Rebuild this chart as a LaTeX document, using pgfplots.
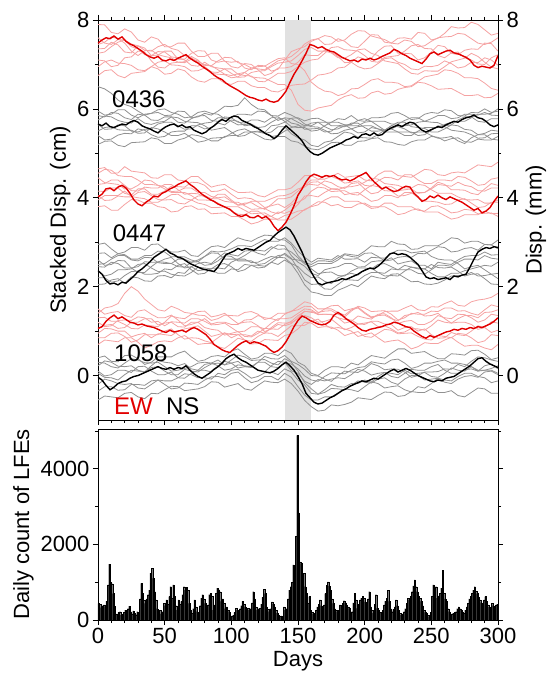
\documentclass[border=0pt]{standalone}
\usepackage{fontspec}
\setmainfont{Liberation Sans}
\usepackage{pgfplots}
\usepackage{pgfplotstable}
\pgfplotsset{compat=1.18}

\definecolor{ewred}{RGB}{226,0,0}
\definecolor{ewpink}{RGB}{245,162,162}
\definecolor{nsgray}{RGB}{145,145,145}
\definecolor{slipgray}{RGB}{225,225,225}

\newcommand{\bigfont}{\fontsize{22}{26}\selectfont}
\newcommand{\labfont}{\fontsize{24}{28}\selectfont}

\pgfplotsset{
  every axis/.append style={
    scale only axis,
    tick align=outside,
    major tick length=5pt,
    minor tick length=3pt,
    axis line style={line width=0.9pt},
    tick style={black, line width=0.7pt},
    tick label style={font=\bigfont},
    label style={font=\bigfont},
    /pgf/number format/assume math mode=true,
    /pgf/number format/1000 sep={},
  },
  thin ew/.style={ewpink, line width=0.8pt},
  thin ns/.style={nsgray, line width=0.8pt},
  bold ew/.style={ewred, line width=1.4pt},
  bold ns/.style={black, line width=1.4pt},
}

% stacked displacement, every 3 days
\pgfplotstableread{
day A1 A2 B1 B2 C1 C2
0 7.48 5.66 4.02 2.36 1.06 -0.04
3 7.55 5.62 4.08 2.28 1.10 -0.10
6 7.60 5.68 4.20 2.14 1.22 -0.22
9 7.58 5.60 4.22 2.06 1.30 -0.32
12 7.64 5.58 4.16 2.08 1.36 -0.26
15 7.57 5.62 4.24 2.04 1.28 -0.18
18 7.62 5.66 4.28 2.10 1.32 -0.14
21 7.52 5.64 4.22 2.08 1.26 -0.12
24 7.46 5.70 4.10 2.16 1.20 -0.06
27 7.42 5.74 3.95 2.24 1.18 -0.02
30 7.36 5.70 3.86 2.34 1.14 0.00
33 7.30 5.62 3.82 2.40 1.16 0.04
36 7.22 5.58 3.90 2.48 1.12 0.08
39 7.17 5.55 3.96 2.56 1.10 0.12
42 7.14 5.50 4.04 2.66 1.08 0.16
45 7.18 5.46 4.02 2.72 1.04 0.20
48 7.10 5.54 4.10 2.78 1.00 0.16
51 7.08 5.60 4.14 2.84 0.97 0.14
54 7.12 5.64 4.20 2.76 1.02 0.18
57 7.09 5.66 4.24 2.72 0.98 0.14
60 7.14 5.60 4.30 2.66 1.00 0.18
63 7.18 5.64 4.34 2.64 1.02 0.16
66 7.22 5.58 4.38 2.58 0.98 0.22
69 7.14 5.60 4.30 2.52 1.04 0.12
72 7.08 5.52 4.24 2.48 1.08 0.04
75 7.03 5.48 4.16 2.44 1.04 -0.02
78 6.96 5.44 4.08 2.40 0.98 -0.06
81 6.90 5.48 4.02 2.38 0.92 0.00
84 6.84 5.56 3.96 2.36 0.82 0.06
87 6.76 5.62 3.92 2.34 0.70 0.14
90 6.70 5.70 3.86 2.44 0.64 0.20
93 6.66 5.76 3.82 2.58 0.58 0.28
96 6.58 5.72 3.78 2.72 0.54 0.38
99 6.52 5.80 3.74 2.76 0.52 0.44
102 6.47 5.84 3.66 2.80 0.60 0.48
105 6.42 5.82 3.60 2.86 0.68 0.40
108 6.36 5.74 3.58 2.82 0.74 0.34
111 6.30 5.70 3.62 2.86 0.78 0.30
114 6.26 5.66 3.56 2.84 0.72 0.24
117 6.24 5.60 3.55 2.82 0.76 0.18
120 6.20 5.56 3.60 2.88 0.74 0.12
123 6.18 5.50 3.54 2.94 0.70 0.10
126 6.22 5.44 3.58 3.00 0.66 0.08
129 6.17 5.40 3.50 3.04 0.58 0.06
132 6.15 5.33 3.36 3.14 0.52 0.10
135 6.18 5.40 3.26 3.22 0.56 0.16
138 6.28 5.52 3.34 3.28 0.64 0.24
141 6.40 5.62 3.45 3.34 0.76 0.30
144 6.60 5.54 3.62 3.28 0.92 0.22
147 6.78 5.46 3.82 3.14 1.10 0.12
150 6.92 5.38 4.06 2.96 1.24 -0.02
153 7.08 5.28 4.20 2.78 1.34 -0.18
156 7.25 5.14 4.36 2.56 1.30 -0.40
159 7.45 5.04 4.48 2.38 1.24 -0.50
162 7.42 4.98 4.53 2.22 1.20 -0.60
165 7.37 4.96 4.50 2.08 1.16 -0.64
168 7.40 5.00 4.46 2.04 1.14 -0.62
171 7.34 5.06 4.50 2.08 1.16 -0.56
174 7.30 5.12 4.48 2.10 1.22 -0.50
177 7.28 5.16 4.50 2.12 1.36 -0.46
180 7.22 5.20 4.44 2.14 1.42 -0.40
183 7.16 5.24 4.40 2.18 1.36 -0.34
186 7.12 5.30 4.42 2.16 1.28 -0.30
189 7.08 5.33 4.38 2.20 1.22 -0.24
192 7.10 5.38 4.42 2.24 1.16 -0.20
195 7.06 5.34 4.48 2.28 1.08 -0.16
198 7.12 5.42 4.52 2.34 1.02 -0.12
201 7.10 5.44 4.57 2.38 1.00 -0.14
204 7.14 5.40 4.46 2.42 1.04 -0.10
207 7.10 5.46 4.36 2.40 1.06 -0.06
210 7.13 5.40 4.28 2.46 1.08 -0.08
213 7.18 5.42 4.20 2.54 1.10 -0.02
216 7.22 5.50 4.24 2.64 1.14 0.04
219 7.26 5.56 4.18 2.74 1.16 0.10
222 7.34 5.60 4.14 2.76 1.20 0.14
225 7.30 5.64 4.16 2.72 1.18 0.08
228 7.24 5.60 4.22 2.74 1.14 0.12
231 7.20 5.66 4.26 2.72 1.10 0.16
234 7.14 5.70 4.24 2.66 1.08 0.12
237 7.10 5.68 4.10 2.58 1.00 0.06
240 7.06 5.60 4.02 2.50 0.94 0.00
243 7.02 5.52 3.92 2.36 0.88 -0.04
246 7.12 5.48 3.96 2.22 0.84 -0.08
249 7.24 5.52 4.04 2.18 0.90 -0.12
252 7.28 5.56 4.00 2.20 0.86 -0.14
255 7.22 5.60 4.06 2.16 0.90 -0.10
258 7.26 5.58 4.00 2.18 0.94 -0.12
261 7.30 5.64 3.96 2.20 0.98 -0.06
264 7.32 5.68 4.02 2.16 1.00 -0.04
267 7.26 5.72 3.98 2.24 1.04 -0.02
270 7.24 5.70 3.94 2.22 1.02 0.04
273 7.20 5.76 3.90 2.26 1.06 0.10
276 7.16 5.80 3.84 2.28 1.04 0.16
279 7.10 5.82 3.78 2.44 1.08 0.22
282 6.98 5.86 3.72 2.62 1.06 0.30
285 6.93 5.80 3.76 2.78 1.10 0.38
288 6.96 5.78 3.66 2.84 1.08 0.40
291 6.94 5.72 3.70 2.88 1.12 0.32
294 6.92 5.64 3.78 2.86 1.16 0.26
297 6.98 5.60 3.92 2.90 1.22 0.22
300 7.20 5.64 4.04 2.88 1.30 0.18
}\stack

% single stations, one row per station, every 5 days
\pgfplotstableread{
line 0 5 10 15 20 25 30 35 40 45 50 55 60 65 70 75 80 85 90 95 100 105 110 115 120 125 130 135 140 145 150 155 160 165 170 175 180 185 190 195 200 205 210 215 220 225 230 235 240 245 250 255 260 265 270 275 280 285 290 295 300
a 7.90 7.89 7.72 7.69 7.80 7.73 7.55 7.50 7.62 7.57 7.40 7.40 7.48 7.48 7.30 7.18 7.18 7.25 7.25 7.07 7.05 7.07 6.92 6.88 6.98 6.97 6.85 6.89 7.10 7.29 7.35 7.40 7.52 7.58 7.45 7.46 7.58 7.52 7.40 7.38 7.52 7.67 7.66 7.50 7.48 7.59 7.60 7.57 7.72 7.70 7.55 7.59 7.70 7.85 7.82 7.83 7.95 7.90 7.78 7.66 7.70
b 7.35 7.36 7.50 7.44 7.28 7.26 7.42 7.37 7.20 7.21 7.30 7.30 7.12 7.12 7.25 7.31 7.30 7.10 7.05 7.08 6.95 6.92 7.02 7.00 6.88 6.75 6.80 6.92 6.92 6.95 7.05 7.22 7.20 7.20 7.32 7.28 7.18 7.04 7.05 7.17 7.12 7.14 7.30 7.41 7.42 7.25 7.25 7.24 7.10 7.15 7.28 7.43 7.40 7.25 7.22 7.32 7.35 7.34 7.48 7.47 7.30
c 7.10 7.08 6.95 6.98 7.15 7.17 7.30 7.28 7.08 6.94 6.92 7.03 7.05 7.06 7.18 7.10 6.95 6.83 6.82 6.90 6.90 6.78 6.75 6.74 6.62 6.61 6.70 6.80 6.80 6.84 6.95 7.05 7.10 7.12 7.25 7.38 7.40 7.33 7.32 7.30 7.20 7.07 7.05 7.16 7.18 7.20 7.30 7.42 7.45 7.36 7.35 7.20 7.15 7.26 7.28 7.15 7.10 7.01 7.00 7.15 7.22
d 6.75 6.86 6.88 6.75 6.70 6.80 6.82 6.84 6.95 6.90 6.78 6.80 6.90 6.86 6.72 6.63 6.60 6.68 6.68 6.58 6.55 6.62 6.62 6.52 6.48 6.48 6.40 6.38 6.45 6.53 6.55 6.56 6.65 6.76 6.78 6.82 6.92 6.94 7.05 6.95 6.90 6.92 7.02 7.13 7.15 7.05 7.00 6.90 6.88 6.96 6.95 6.98 7.08 7.02 6.92 6.95 7.05 7.04 7.15 7.10 6.98
e 7.60 7.48 7.45 7.56 7.55 7.40 7.35 7.22 7.20 7.29 7.28 7.17 7.15 7.10 6.98 6.96 7.05 6.95 6.92 6.90 6.80 6.71 6.72 6.82 6.85 6.86 6.95 7.03 7.05 7.08 7.20 7.34 7.38 7.30 7.30 7.26 7.15 7.14 7.22 7.33 7.35 7.25 7.20 7.08 7.05 7.02 6.90 6.80 6.78 6.86 6.85 6.85 6.95 7.06 7.10 7.14 7.25 7.18 7.05 6.94 6.90
f 6.95 7.06 7.10 7.03 7.02 6.98 6.88 6.86 6.95 7.05 7.08 6.99 6.98 6.95 6.85 6.86 6.92 6.80 6.78 6.77 6.70 6.72 6.82 6.92 6.95 6.96 7.05 7.13 7.15 7.02 7.00 6.86 6.60 6.48 6.40 6.38 6.30 6.34 6.45 6.46 6.55 6.65 6.68 6.60 6.60 6.58 6.50 6.52 6.62 6.72 6.75 6.78 6.88 6.86 6.80 6.70 6.70 6.68 6.58 6.46 6.42
g 7.25 7.28 7.40 7.50 7.55 7.46 7.42 7.32 7.30 7.40 7.45 7.36 7.32 7.20 7.15 7.05 7.00 6.97 6.88 6.78 6.75 6.79 6.82 6.72 6.70 6.69 6.62 6.55 6.55 6.42 6.10 5.97 5.95 6.02 6.05 6.08 6.20 6.28 6.32 6.24 6.25 6.36 6.40 6.33 6.35 6.44 6.48 6.50 6.60 6.58 6.52 6.44 6.45 6.46 6.38 6.30 6.30 6.32 6.25 6.26 6.35
h 7.45 7.50 7.62 7.58 7.48 7.30 7.20 7.31 7.32 7.22 7.18 7.15 7.05 7.04 7.12 7.08 6.98 6.97 7.08 7.16 7.15 7.04 7.00 6.92 6.90 6.88 6.98 7.08 7.12 7.18 7.30 7.46 7.55 7.58 7.65 7.62 7.52 7.55 7.68 7.76 7.75 7.64 7.60 7.56 7.48 7.46 7.55 7.52 7.40 7.42 7.52 7.60 7.62 7.63 7.70 7.68 7.58 7.48 7.45 7.50 7.60
}\AEWrows
\pgfplotstableread{
line 0 5 10 15 20 25 30 35 40 45 50 55 60 65 70 75 80 85 90 95 100 105 110 115 120 125 130 135 140 145 150 155 160 165 170 175 180 185 190 195 200 205 210 215 220 225 230 235 240 245 250 255 260 265 270 275 280 285 290 295 300
a 6.50 6.45 6.35 6.20 6.10 6.05 5.95 5.86 5.90 5.92 5.85 5.86 5.95 5.94 5.80 5.82 5.90 5.86 5.95 6.06 6.05 6.08 6.25 6.10 6.00 5.98 5.85 5.74 5.80 5.78 5.70 5.62 5.62 5.70 5.70 5.70 5.78 5.76 5.85 5.74 5.72 5.80 5.80 5.82 5.90 5.92 5.85 5.76 5.78 5.88 5.92 5.90 5.98 5.96 5.85 5.84 5.92 5.91 6.00 5.92 5.95
b 5.85 5.82 5.92 5.90 5.80 5.76 5.88 5.86 5.75 5.74 5.82 5.82 5.70 5.68 5.78 5.84 5.85 5.74 5.72 5.82 5.80 5.70 5.68 5.75 5.75 5.70 5.80 5.82 5.72 5.60 5.58 5.58 5.50 5.52 5.62 5.70 5.70 5.64 5.65 5.74 5.78 5.72 5.72 5.72 5.66 5.66 5.74 5.80 5.80 5.72 5.70 5.69 5.62 5.64 5.75 5.82 5.82 5.72 5.70 5.78 5.78
c 5.40 5.30 5.32 5.41 5.45 5.44 5.55 5.52 5.42 5.36 5.38 5.48 5.50 5.50 5.62 5.62 5.55 5.58 5.68 5.64 5.75 5.72 5.62 5.64 5.55 5.45 5.48 5.60 5.60 5.44 5.35 5.30 5.18 5.15 5.25 5.28 5.38 5.48 5.45 5.36 5.35 5.34 5.42 5.52 5.55 5.48 5.48 5.48 5.40 5.42 5.52 5.62 5.60 5.52 5.50 5.48 5.42 5.34 5.35 5.44 5.45
d 5.65 5.54 5.55 5.64 5.62 5.50 5.48 5.54 5.55 5.66 5.70 5.70 5.62 5.54 5.55 5.64 5.68 5.70 5.80 5.80 5.72 5.64 5.65 5.66 5.58 5.60 5.70 5.78 5.78 5.68 5.65 5.54 5.55 5.56 5.48 5.50 5.60 5.60 5.68 5.68 5.58 5.50 5.50 5.52 5.62 5.70 5.70 5.60 5.58 5.56 5.48 5.48 5.55 5.64 5.62 5.54 5.52 5.42 5.45 5.52 5.50
e 5.20 5.27 5.28 5.18 5.15 5.24 5.25 5.26 5.35 5.32 5.22 5.22 5.30 5.34 5.42 5.40 5.35 5.28 5.28 5.38 5.40 5.40 5.48 5.48 5.40 5.32 5.30 5.38 5.38 5.28 5.25 5.16 5.10 5.08 5.15 5.24 5.25 5.18 5.18 5.27 5.28 5.33 5.35 5.26 5.25 5.20 5.18 5.26 5.30 5.30 5.38 5.36 5.28 5.33 5.35 5.26 5.25 5.32 5.30 5.30 5.38
f 5.75 5.84 5.82 5.74 5.70 5.68 5.78 5.68 5.65 5.70 5.72 5.82 5.80 5.72 5.70 5.69 5.62 5.52 5.55 5.58 5.48 5.38 5.40 5.48 5.50 5.47 5.62 5.64 5.70 5.79 5.80 5.73 5.78 5.79 5.72 5.62 5.62 5.64 5.55 5.46 5.48 5.58 5.55 5.52 5.62 5.60 5.55 5.46 5.48 5.48 5.40 5.34 5.35 5.38 5.28 5.22 5.35 5.42 5.42 5.32 5.30
g 5.50 5.58 5.60 5.53 5.52 5.52 5.45 5.46 5.58 5.55 5.48 5.40 5.40 5.45 5.35 5.25 5.28 5.34 5.35 5.36 5.45 5.52 5.55 5.48 5.48 5.45 5.38 5.40 5.50 5.58 5.62 5.61 5.68 5.70 5.60 5.53 5.55 5.62 5.62 5.62 5.70 5.72 5.62 5.52 5.55 5.62 5.62 5.64 5.70 5.72 5.78 5.85 5.85 5.78 5.80 5.88 5.88 5.86 5.92 5.86 5.85
h 5.95 5.86 5.88 5.98 5.98 5.86 5.80 5.88 5.90 5.98 6.00 5.92 5.88 5.80 5.82 5.92 5.95 5.90 5.88 5.78 5.80 5.88 5.88 5.86 5.95 5.94 5.85 5.84 5.92 5.86 5.78 5.66 5.60 5.59 5.52 5.44 5.45 5.52 5.55 5.60 5.62 5.62 5.55 5.48 5.48 5.48 5.40 5.40 5.50 5.58 5.58 5.58 5.65 5.70 5.72 5.72 5.80 5.88 5.88 5.90 6.00
}\ANSrows
\pgfplotstableread{
line 0 5 10 15 20 25 30 35 40 45 50 55 60 65 70 75 80 85 90 95 100 105 110 115 120 125 130 135 140 145 150 155 160 165 170 175 180 185 190 195 200 205 210 215 220 225 230 235 240 245 250 255 260 265 270 275 280 285 290 295 300
a 4.65 4.68 4.55 4.56 4.70 4.60 4.58 4.56 4.45 4.44 4.52 4.52 4.40 4.38 4.48 4.48 4.35 4.24 4.28 4.30 4.20 4.12 4.12 4.13 4.05 4.02 4.10 4.18 4.18 4.22 4.35 4.50 4.50 4.42 4.42 4.48 4.55 4.46 4.48 4.50 4.40 4.38 4.52 4.60 4.60 4.50 4.48 4.46 4.55 4.64 4.62 4.52 4.50 4.56 4.58 4.56 4.65 4.74 4.72 4.70 4.80
b 4.30 4.32 4.40 4.40 4.28 4.16 4.15 4.24 4.22 4.22 4.30 4.30 4.18 4.08 4.10 4.09 4.02 3.97 4.08 4.08 3.95 3.84 3.88 3.89 3.80 3.74 3.85 3.98 3.98 4.02 4.15 4.30 4.30 4.28 4.38 4.34 4.25 4.21 4.32 4.34 4.20 4.09 4.12 4.24 4.25 4.16 4.18 4.20 4.10 4.12 4.22 4.35 4.30 4.18 4.18 4.17 4.10 4.07 4.20 4.32 4.28
c 3.95 4.05 4.05 4.05 4.15 4.03 4.00 3.98 3.90 3.90 3.98 4.07 4.08 3.98 3.95 3.88 3.85 3.78 3.78 3.80 3.70 3.63 3.62 3.70 3.70 3.60 3.58 3.68 3.65 3.71 3.85 4.04 4.05 4.02 4.12 4.20 4.20 4.07 4.10 4.12 4.02 3.92 3.95 4.05 4.05 4.00 4.12 4.12 4.00 3.92 3.92 3.90 3.85 3.86 3.95 3.98 3.88 3.78 3.80 3.90 3.90
d 4.45 4.34 4.32 4.30 4.20 4.20 4.28 4.40 4.38 4.28 4.25 4.14 4.15 4.22 4.22 4.12 4.12 4.03 4.00 4.02 3.92 3.83 3.85 3.92 3.92 3.92 3.98 4.04 4.05 4.10 4.20 4.24 4.35 4.36 4.28 4.20 4.18 4.24 4.25 4.28 4.35 4.44 4.42 4.32 4.30 4.28 4.22 4.22 4.30 4.28 4.18 4.10 4.10 4.10 4.02 3.96 3.95 3.96 3.88 3.88 3.95
e 3.80 3.82 3.72 3.72 3.85 3.96 3.95 3.88 3.88 3.80 3.78 3.68 3.70 3.80 3.82 3.74 3.75 3.64 3.65 3.66 3.58 3.58 3.50 3.41 3.45 3.52 3.52 3.52 3.60 3.64 3.70 3.72 3.82 3.91 3.90 3.82 3.85 3.78 3.78 3.86 3.88 3.80 3.80 3.80 3.72 3.62 3.65 3.72 3.75 3.68 3.68 3.68 3.60 3.52 3.55 3.62 3.62 3.62 3.70 3.64 3.65
f 4.15 4.14 4.22 4.22 4.10 4.06 4.20 4.20 4.08 4.08 4.15 4.26 4.25 4.24 4.35 4.34 4.28 4.14 4.15 4.20 4.08 3.98 4.00 3.98 3.90 3.78 3.82 3.86 3.78 3.88 4.05 4.28 4.40 4.40 4.50 4.48 4.42 4.33 4.35 4.38 4.28 4.26 4.38 4.46 4.45 4.40 4.52 4.52 4.40 4.32 4.32 4.40 4.40 4.38 4.48 4.46 4.38 4.28 4.30 4.42 4.45
g 4.55 4.64 4.62 4.50 4.48 4.48 4.40 4.30 4.30 4.28 4.20 4.12 4.12 4.12 4.05 3.95 3.95 3.94 3.88 3.80 3.80 3.80 3.72 3.64 3.65 3.66 3.58 3.50 3.50 3.52 3.62 3.74 3.80 3.84 3.95 4.02 4.02 3.92 3.92 3.92 3.85 3.76 3.78 3.88 3.88 3.80 3.80 3.80 3.72 3.70 3.80 3.82 3.75 3.66 3.68 3.74 3.72 3.64 3.65 3.66 3.58
h 4.05 3.94 3.95 4.04 4.02 4.02 4.12 4.14 4.05 3.96 3.95 3.96 3.88 3.86 3.95 4.04 4.05 3.98 3.98 3.92 3.90 3.90 3.82 3.74 3.75 3.76 3.68 3.64 3.72 3.84 3.90 3.98 4.15 4.24 4.22 4.14 4.15 4.16 4.08 4.06 4.18 4.28 4.25 4.16 4.15 4.04 4.05 4.10 4.12 4.12 4.20 4.30 4.28 4.26 4.35 4.28 4.25 4.16 4.15 4.22 4.22
}\BEWrows
\pgfplotstableread{
line 0 5 10 15 20 25 30 35 40 45 50 55 60 65 70 75 80 85 90 95 100 105 110 115 120 125 130 135 140 145 150 155 160 165 170 175 180 185 190 195 200 205 210 215 220 225 230 235 240 245 250 255 260 265 270 275 280 285 290 295 300
a 2.95 2.98 2.85 2.74 2.78 2.88 2.88 2.82 2.95 2.96 2.85 2.78 2.78 2.82 2.70 2.68 2.80 2.90 2.92 2.88 3.00 3.10 3.05 3.02 3.10 3.16 3.15 3.06 3.05 2.94 2.70 2.54 2.50 2.58 2.58 2.56 2.65 2.74 2.72 2.70 2.80 2.92 2.90 2.90 3.02 2.96 2.95 2.84 2.85 2.92 2.92 2.92 3.00 3.10 3.08 2.98 3.02 3.02 2.95 2.94 3.05
b 2.60 2.48 2.50 2.59 2.58 2.42 2.45 2.56 2.55 2.55 2.62 2.66 2.52 2.42 2.45 2.52 2.55 2.52 2.65 2.76 2.72 2.69 2.80 2.82 2.75 2.71 2.85 2.94 2.92 2.70 2.55 2.46 2.30 2.25 2.38 2.42 2.45 2.52 2.52 2.44 2.45 2.56 2.58 2.58 2.65 2.51 2.55 2.58 2.48 2.48 2.40 2.55 2.52 2.50 2.60 2.68 2.70 2.70 2.78 2.71 2.72
c 2.20 2.20 2.10 2.13 2.25 2.34 2.35 2.28 2.28 2.30 2.40 2.38 2.48 2.52 2.38 2.28 2.30 2.41 2.42 2.40 2.55 2.62 2.62 2.54 2.55 2.62 2.68 2.65 2.75 2.64 2.40 2.15 2.05 2.06 1.95 1.94 2.05 2.16 2.15 2.14 2.25 2.32 2.32 2.30 2.40 2.38 2.48 2.44 2.40 2.40 2.30 2.22 2.22 2.30 2.30 2.36 2.40 2.44 2.48 2.46 2.55
d 2.45 2.44 2.55 2.52 2.42 2.42 2.32 2.32 2.45 2.56 2.55 2.52 2.62 2.62 2.55 2.56 2.48 2.50 2.58 2.70 2.68 2.58 2.58 2.58 2.50 2.52 2.62 2.70 2.72 2.62 2.60 2.56 2.40 2.29 2.32 2.33 2.25 2.24 2.35 2.42 2.42 2.40 2.50 2.52 2.45 2.38 2.38 2.38 2.30 2.28 2.38 2.48 2.48 2.46 2.55 2.62 2.62 2.60 2.70 2.64 2.62
e 2.05 2.06 2.15 2.18 2.08 2.22 2.20 2.13 2.12 2.24 2.25 2.20 2.32 2.30 2.45 2.36 2.38 2.37 2.30 2.30 2.40 2.38 2.50 2.48 2.42 2.44 2.55 2.50 2.60 2.51 2.30 2.04 1.88 1.85 1.80 1.80 1.92 1.98 2.05 2.00 2.12 2.24 2.20 2.18 2.28 2.29 2.20 2.11 2.12 2.06 2.05 2.08 2.15 2.24 2.25 2.26 2.32 2.24 2.25 2.28 2.18
f 2.75 2.76 2.65 2.74 2.72 2.62 2.62 2.70 2.70 2.80 2.78 2.67 2.68 2.67 2.60 2.56 2.68 2.80 2.78 2.80 2.85 2.92 2.92 2.90 2.98 3.06 3.02 3.02 3.10 2.98 2.80 2.66 2.55 2.64 2.62 2.60 2.70 2.62 2.62 2.63 2.55 2.66 2.65 2.64 2.75 2.82 2.82 2.76 2.78 2.80 2.68 2.62 2.60 2.60 2.52 2.40 2.45 2.48 2.38 2.28 2.30
g 2.35 2.24 2.28 2.38 2.38 2.40 2.50 2.52 2.42 2.34 2.35 2.28 2.25 2.24 2.32 2.44 2.42 2.40 2.50 2.52 2.45 2.34 2.38 2.48 2.48 2.46 2.55 2.66 2.65 2.52 2.45 2.30 2.20 2.22 2.12 2.07 2.20 2.26 2.30 2.26 2.38 2.42 2.32 2.24 2.25 2.24 2.35 2.44 2.42 2.40 2.50 2.43 2.42 2.44 2.35 2.24 2.28 2.29 2.18 2.06 2.05
h 2.50 2.52 2.62 2.70 2.70 2.60 2.58 2.66 2.65 2.54 2.52 2.52 2.45 2.44 2.55 2.60 2.68 2.76 2.75 2.62 2.62 2.62 2.70 2.80 2.82 2.80 2.90 2.84 2.85 2.78 2.65 2.51 2.45 2.52 2.52 2.52 2.60 2.72 2.68 2.66 2.75 2.76 2.68 2.58 2.60 2.66 2.68 2.66 2.75 2.74 2.82 2.90 2.88 2.78 2.80 2.86 2.88 2.82 2.95 2.94 2.85
}\BNSrows
\pgfplotstableread{
line 0 5 10 15 20 25 30 35 40 45 50 55 60 65 70 75 80 85 90 95 100 105 110 115 120 125 130 135 140 145 150 155 160 165 170 175 180 185 190 195 200 205 210 215 220 225 230 235 240 245 250 255 260 265 270 275 280 285 290 295 300
a 1.40 1.52 1.55 1.62 1.85 2.00 1.90 1.72 1.60 1.48 1.45 1.56 1.50 1.42 1.40 1.36 1.35 1.24 1.28 1.36 1.35 1.34 1.42 1.44 1.38 1.26 1.30 1.40 1.40 1.44 1.55 1.66 1.62 1.50 1.50 1.50 1.42 1.36 1.48 1.52 1.40 1.30 1.35 1.44 1.45 1.45 1.52 1.58 1.48 1.46 1.55 1.54 1.62 1.68 1.58 1.56 1.66 1.70 1.72 1.76 1.85
b 1.20 1.10 1.12 1.24 1.25 1.24 1.32 1.30 1.20 1.22 1.12 1.21 1.20 1.18 1.28 1.28 1.22 1.14 1.15 1.18 1.08 0.98 1.00 1.10 1.10 1.05 1.18 1.28 1.28 1.30 1.40 1.50 1.48 1.38 1.38 1.37 1.30 1.18 1.22 1.34 1.30 1.27 1.38 1.39 1.30 1.17 1.22 1.24 1.15 1.15 1.22 1.35 1.30 1.28 1.38 1.37 1.30 1.20 1.25 1.38 1.35
c 0.85 0.85 0.95 0.96 0.88 0.75 0.80 0.92 0.92 0.92 1.00 1.05 0.92 0.82 0.85 0.84 0.78 0.74 0.85 0.96 0.92 0.93 0.80 0.71 0.72 0.81 0.80 0.79 0.90 0.94 1.05 1.20 1.18 1.08 1.10 1.09 1.02 0.90 0.95 0.99 0.88 0.86 0.95 1.04 1.02 0.94 0.95 0.96 0.88 0.82 0.80 0.90 0.88 0.85 0.95 0.93 0.85 0.74 0.78 0.92 0.90
d 1.05 1.13 1.15 1.06 1.08 1.20 1.20 1.28 1.28 1.14 1.18 1.20 1.10 1.09 1.20 1.20 1.28 1.16 1.20 1.20 1.15 1.15 1.25 1.26 1.35 1.30 1.28 1.24 1.38 1.45 1.48 1.56 1.55 1.42 1.45 1.46 1.38 1.32 1.45 1.56 1.52 1.44 1.45 1.46 1.38 1.25 1.30 1.40 1.38 1.38 1.45 1.44 1.52 1.52 1.45 1.46 1.40 1.36 1.48 1.59 1.55
e 0.70 0.80 0.78 0.76 0.85 0.85 0.75 0.62 0.68 0.76 0.78 0.76 0.85 0.90 0.80 0.70 0.72 0.72 0.65 0.61 0.72 0.84 0.80 0.77 0.88 0.96 0.95 0.88 1.00 1.12 1.12 1.13 1.22 1.27 1.15 1.06 1.08 1.05 1.00 0.88 0.92 0.96 0.85 0.75 0.78 0.80 0.72 0.60 0.65 0.74 0.72 0.72 0.80 0.86 0.75 0.66 0.68 0.68 0.62 0.58 0.70
f 1.30 1.31 1.22 1.22 1.15 1.06 1.05 1.14 1.12 1.10 1.20 1.34 1.30 1.28 1.38 1.44 1.45 1.32 1.35 1.40 1.28 1.17 1.20 1.21 1.12 0.99 1.05 1.15 1.12 1.17 1.30 1.45 1.42 1.40 1.50 1.57 1.58 1.46 1.50 1.54 1.42 1.32 1.35 1.36 1.28 1.23 1.35 1.38 1.42 1.34 1.35 1.40 1.28 1.18 1.20 1.20 1.15 1.04 1.08 1.21 1.18
g 0.95 1.06 1.05 1.00 1.00 0.87 0.92 0.95 0.85 0.94 0.92 0.90 1.00 1.05 1.08 1.12 1.00 0.88 0.92 0.96 0.85 0.92 0.92 0.89 1.00 0.95 1.08 1.19 1.18 1.19 1.28 1.35 1.30 1.20 1.22 1.27 1.15 1.03 1.08 1.16 1.15 1.22 1.22 1.16 1.15 1.02 1.08 1.10 1.00 1.05 0.92 0.84 0.85 0.97 0.92 0.90 1.00 1.12 1.08 0.97 1.02
h 1.50 1.38 1.42 1.44 1.35 1.31 1.45 1.48 1.38 1.30 1.30 1.36 1.25 1.12 1.15 1.20 1.08 1.04 1.02 0.91 0.95 0.99 0.88 0.87 0.95 1.06 1.05 1.04 1.15 1.22 1.35 1.44 1.45 1.37 1.38 1.38 1.30 1.26 1.25 1.16 1.18 1.21 1.10 1.12 1.05 0.96 0.98 1.06 1.05 1.02 1.12 1.25 1.20 1.18 1.28 1.35 1.35 1.30 1.42 1.43 1.48
}\CEWrows
\pgfplotstableread{
line 0 5 10 15 20 25 30 35 40 45 50 55 60 65 70 75 80 85 90 95 100 105 110 115 120 125 130 135 140 145 150 155 160 165 170 175 180 185 190 195 200 205 210 215 220 225 230 235 240 245 250 255 260 265 270 275 280 285 290 295 300
a 0.40 0.44 0.32 0.31 0.45 0.46 0.38 0.25 0.30 0.42 0.42 0.42 0.50 0.55 0.42 0.32 0.35 0.43 0.45 0.42 0.55 0.60 0.48 0.37 0.40 0.50 0.50 0.45 0.58 0.50 0.30 0.22 0.05 0.00 0.12 0.20 0.20 0.17 0.28 0.24 0.35 0.45 0.42 0.39 0.50 0.60 0.60 0.50 0.52 0.54 0.45 0.38 0.38 0.49 0.48 0.46 0.56 0.57 0.48 0.36 0.40
b 0.10 -0.01 0.02 0.12 0.12 0.07 0.20 0.21 0.10 0.02 0.02 0.08 -0.05 -0.06 0.05 0.12 0.12 0.08 0.20 0.32 0.28 0.17 0.20 0.21 0.12 0.08 0.22 0.32 0.30 0.11 0.05 -0.13 -0.20 -0.09 -0.12 -0.08 -0.05 -0.07 0.02 0.14 0.10 0.01 0.05 0.07 -0.02 -0.05 0.05 0.14 0.12 0.12 0.20 0.25 0.12 0.05 0.05 0.13 0.15 0.10 0.22 0.26 0.15
c -0.35 -0.25 -0.25 -0.33 -0.32 -0.20 -0.20 -0.22 -0.12 -0.10 -0.20 -0.30 -0.28 -0.17 -0.18 -0.20 -0.10 -0.03 -0.02 -0.06 0.05 0.08 -0.05 -0.16 -0.12 -0.02 -0.02 -0.10 0.05 -0.04 -0.25 -0.44 -0.55 -0.55 -0.48 -0.48 -0.40 -0.30 -0.32 -0.36 -0.25 -0.14 -0.18 -0.28 -0.25 -0.23 -0.32 -0.37 -0.25 -0.28 -0.18 -0.06 -0.10 -0.12 -0.02 0.05 0.05 -0.02 -0.05 -0.16 -0.12
d 0.22 0.33 0.30 0.21 0.20 0.22 0.12 0.08 0.22 0.34 0.30 0.28 0.22 0.27 0.15 0.12 0.25 0.28 0.35 0.24 0.28 0.32 0.20 0.18 0.30 0.43 0.38 0.37 0.45 0.32 0.25 0.14 0.00 -0.01 -0.08 -0.13 0.00 0.10 0.08 0.07 0.15 0.27 0.22 0.13 0.15 0.14 0.08 -0.04 0.00 0.08 0.08 0.09 0.15 0.14 0.25 0.20 0.32 0.42 0.40 0.35 0.32
e -0.55 -0.46 -0.48 -0.50 -0.40 -0.38 -0.48 -0.52 -0.40 -0.41 -0.32 -0.24 -0.25 -0.34 -0.32 -0.30 -0.25 -0.14 -0.15 -0.26 -0.22 -0.18 -0.30 -0.33 -0.22 -0.12 -0.15 -0.16 -0.08 -0.18 -0.35 -0.56 -0.70 -0.80 -0.78 -0.66 -0.68 -0.65 -0.60 -0.50 -0.52 -0.54 -0.45 -0.37 -0.38 -0.47 -0.45 -0.36 -0.38 -0.38 -0.30 -0.38 -0.38 -0.34 -0.45 -0.48 -0.38 -0.28 -0.30 -0.40 -0.40
f 0.05 -0.04 -0.05 -0.10 0.02 0.12 0.10 0.08 0.18 0.20 0.10 0.02 0.02 0.14 0.10 0.08 0.18 0.26 0.28 0.24 0.35 0.46 0.42 0.34 0.35 0.36 0.28 0.24 0.38 0.30 0.10 -0.16 -0.30 -0.42 -0.38 -0.29 -0.30 -0.32 -0.22 -0.12 -0.15 -0.17 -0.08 -0.05 -0.15 -0.20 -0.08 0.00 0.00 -0.10 -0.08 -0.06 -0.15 -0.18 -0.08 -0.02 0.00 -0.04 0.08 0.10 0.02
g -0.20 -0.08 -0.12 -0.18 -0.20 -0.18 -0.28 -0.30 -0.20 -0.10 -0.12 -0.12 -0.05 0.04 0.02 -0.05 -0.05 -0.08 0.05 0.02 0.12 0.14 0.05 -0.06 -0.02 0.06 0.08 0.02 0.15 0.08 -0.10 -0.21 -0.40 -0.42 -0.32 -0.20 -0.25 -0.26 -0.18 -0.18 -0.10 -0.15 -0.02 0.07 0.05 0.02 0.12 0.04 0.05 0.07 -0.02 -0.04 0.05 0.17 0.12 0.10 0.20 0.12 0.12 0.12 0.05
h 0.30 0.28 0.20 0.17 0.28 0.38 0.35 0.29 0.28 0.30 0.20 0.10 0.12 0.16 0.20 0.28 0.30 0.28 0.22 0.12 0.15 0.24 0.22 0.20 0.30 0.30 0.20 0.18 0.28 0.26 0.15 -0.01 -0.10 -0.13 -0.02 0.06 0.05 0.04 0.12 0.18 0.20 0.31 0.28 0.26 0.35 0.37 0.28 0.16 0.20 0.28 0.28 0.32 0.35 0.28 0.28 0.25 0.20 0.10 0.12 0.16 0.22
}\CNSrows
\pgfplotstabletranspose[colnames from=line,input colnames to=day]{\AEW}{\AEWrows}
\pgfplotstabletranspose[colnames from=line,input colnames to=day]{\ANS}{\ANSrows}
\pgfplotstabletranspose[colnames from=line,input colnames to=day]{\BEW}{\BEWrows}
\pgfplotstabletranspose[colnames from=line,input colnames to=day]{\BNS}{\BNSrows}
\pgfplotstabletranspose[colnames from=line,input colnames to=day]{\CEW}{\CEWrows}
\pgfplotstabletranspose[colnames from=line,input colnames to=day]{\CNS}{\CNSrows}

% daily LFE count
\pgfplotstableread[row sep=\\]{
day n\\
0 440\\ 1 420\\ 2 330\\ 3 380\\ 4 400\\ 5 360\\ 6 500\\ 7 930\\ 8 1480\\ 9 1000\\
10 960\\ 11 700\\ 12 370\\ 13 160\\ 14 140\\ 15 200\\ 16 220\\ 17 130\\ 18 150\\ 19 200\\
20 260\\ 21 180\\ 22 300\\ 23 370\\ 24 220\\ 25 160\\ 26 240\\ 27 180\\ 28 140\\ 29 220\\
30 200\\ 31 560\\ 32 970\\ 33 700\\ 34 520\\ 35 440\\ 36 560\\ 37 670\\ 38 790\\ 39 1240\\
40 1370\\ 41 1100\\ 42 750\\ 43 530\\ 44 300\\ 45 220\\ 46 260\\ 47 160\\ 48 220\\ 49 440\\
50 380\\ 51 530\\ 52 420\\ 53 620\\ 54 880\\ 55 580\\ 56 930\\ 57 620\\ 58 380\\ 59 260\\
60 530\\ 61 420\\ 62 490\\ 63 670\\ 64 880\\ 65 790\\ 66 860\\ 67 790\\ 68 440\\ 69 260\\
70 180\\ 71 300\\ 72 530\\ 73 350\\ 74 220\\ 75 180\\ 76 380\\ 77 580\\ 78 670\\ 79 560\\
80 440\\ 81 260\\ 82 400\\ 83 670\\ 84 700\\ 85 620\\ 86 260\\ 87 400\\ 88 700\\ 89 840\\
90 800\\ 91 750\\ 92 490\\ 93 560\\ 94 440\\ 95 300\\ 96 350\\ 97 260\\ 98 220\\ 99 90\\
100 110\\ 101 130\\ 102 200\\ 103 310\\ 104 260\\ 105 220\\ 106 300\\ 107 380\\ 108 490\\ 109 420\\
110 350\\ 111 310\\ 112 310\\ 113 260\\ 114 300\\ 115 450\\ 116 750\\ 117 560\\ 118 350\\ 119 260\\
120 300\\ 121 310\\ 122 420\\ 123 600\\ 124 810\\ 125 700\\ 126 350\\ 127 280\\ 128 220\\ 129 300\\
130 480\\ 131 420\\ 132 350\\ 133 260\\ 134 180\\ 135 120\\ 136 90\\ 137 110\\ 138 90\\ 139 350\\
140 260\\ 141 300\\ 142 560\\ 143 790\\ 144 880\\ 145 1000\\ 146 1460\\ 147 880\\ 148 2220\\ 149 4880\\
150 2830\\ 151 1540\\ 152 1500\\ 153 1000\\ 154 1240\\ 155 880\\ 156 700\\ 157 440\\ 158 620\\ 159 260\\
160 200\\ 161 160\\ 162 180\\ 163 260\\ 164 350\\ 165 420\\ 166 530\\ 167 380\\ 168 260\\ 169 400\\
170 700\\ 171 920\\ 172 1010\\ 173 900\\ 174 790\\ 175 560\\ 176 440\\ 177 300\\ 178 260\\ 179 220\\
180 260\\ 181 400\\ 182 380\\ 183 440\\ 184 510\\ 185 460\\ 186 400\\ 187 350\\ 188 310\\ 189 180\\
190 220\\ 191 450\\ 192 700\\ 193 530\\ 194 310\\ 195 420\\ 196 530\\ 197 580\\ 198 620\\ 199 580\\
200 480\\ 201 400\\ 202 560\\ 203 750\\ 204 350\\ 205 260\\ 206 180\\ 207 420\\ 208 670\\ 209 310\\
210 260\\ 211 200\\ 212 180\\ 213 260\\ 214 400\\ 215 500\\ 216 580\\ 217 790\\ 218 490\\ 219 300\\
220 220\\ 221 280\\ 222 350\\ 223 530\\ 224 380\\ 225 260\\ 226 180\\ 227 130\\ 228 160\\ 229 220\\
230 300\\ 231 440\\ 232 580\\ 233 530\\ 234 620\\ 235 750\\ 236 900\\ 237 1060\\ 238 880\\ 239 750\\
240 620\\ 241 580\\ 242 490\\ 243 380\\ 244 260\\ 245 200\\ 246 180\\ 247 120\\ 248 90\\ 249 200\\
250 620\\ 251 930\\ 252 670\\ 253 880\\ 254 580\\ 255 640\\ 256 700\\ 257 840\\ 258 1320\\ 259 700\\
260 560\\ 261 490\\ 262 300\\ 263 220\\ 264 130\\ 265 160\\ 266 180\\ 267 200\\ 268 220\\ 269 300\\
270 350\\ 271 300\\ 272 260\\ 273 200\\ 274 180\\ 275 260\\ 276 350\\ 277 440\\ 278 560\\ 279 620\\
280 700\\ 281 790\\ 282 880\\ 283 760\\ 284 700\\ 285 600\\ 286 530\\ 287 460\\ 288 400\\ 289 530\\
290 620\\ 291 500\\ 292 400\\ 293 340\\ 294 310\\ 295 440\\ 296 380\\ 297 350\\ 298 400\\ 299 420\\
300 0\\
}\lfe

\begin{document}
\begin{tikzpicture}

% top panel: stacked displacements
\begin{axis}[
  name=top, at={(0pt,0pt)}, anchor=south west,
  width=400pt, height=400pt,
  xmin=0, xmax=300, ymin=-1, ymax=8,
  xtick={0,50,...,300}, xticklabels={}, minor x tick num=4,
  ytick={0,2,4,6,8}, minor y tick num=1,
  xtick pos=both, ytick pos=left,
  ylabel={Stacked Disp. (cm)},
  no markers,
]
\addplot[fill=slipgray, draw=none] coordinates {(140,-1) (160,-1) (160,8) (140,8)};

\pgfplotsinvokeforeach{a,b,c,d,e,f,g,h}{
  \addplot[thin ew] table[x=day,y=#1]{\AEW};
  \addplot[thin ew] table[x=day,y=#1]{\BEW};
  \addplot[thin ew] table[x=day,y=#1]{\CEW};
  \addplot[thin ns] table[x=day,y=#1]{\ANS};
  \addplot[thin ns] table[x=day,y=#1]{\BNS};
  \addplot[thin ns] table[x=day,y=#1]{\CNS};
}

\addplot[bold ew] table[x=day,y=A1]{\stack};
\addplot[bold ns] table[x=day,y=A2]{\stack};
\addplot[bold ew] table[x=day,y=B1]{\stack};
\addplot[bold ns] table[x=day,y=B2]{\stack};
\addplot[bold ew] table[x=day,y=C1]{\stack};
\addplot[bold ns] table[x=day,y=C2]{\stack};

\node[anchor=base west, inner sep=0pt, font=\labfont] at (axis cs:10.5,6.03) {0436};
\node[anchor=base west, inner sep=0pt, font=\labfont] at (axis cs:11,3.02) {0447};
\node[anchor=base west, inner sep=0pt, font=\labfont] at (axis cs:12,0.32) {1058};
\node[anchor=base west, inner sep=0pt, font=\labfont] at (axis cs:12,-0.88)
  {\textcolor{ewred}{EW}\hspace{0.55em}NS};
\end{axis}

% right-hand scale of the top panel
\begin{axis}[
  at={(0pt,0pt)}, anchor=south west,
  width=400pt, height=400pt,
  xmin=0, xmax=300, ymin=-1, ymax=8,
  axis x line=none, axis y line*=right,
  ytick={0,2,4,6,8}, minor y tick num=1,
  ylabel={Disp. (mm)},
]
\end{axis}

% bottom panel: daily LFE count
\begin{axis}[
  name=bot, at={(0pt,-9pt)}, anchor=north west,
  width=400pt, height=191pt,
  xmin=0, xmax=300, ymin=0, ymax=5050,
  xtick={0,50,...,300}, minor x tick num=4,
  ytick={0,2000,4000}, minor ytick={1000,3000,5000},
  xtick pos=left, ytick pos=both, yticklabel pos=left,
  scaled y ticks=false,
  xlabel={Days}, ylabel={Daily count of LFEs},
]
\addplot[ybar interval, fill=black!78, draw=black, line width=0.2pt] table[x=day,y=n]{\lfe};
\end{axis}

\pgfresetboundingbox
\path[use as bounding box] (-98pt,-255pt) rectangle (457pt,420pt);
\end{tikzpicture}
\end{document}
